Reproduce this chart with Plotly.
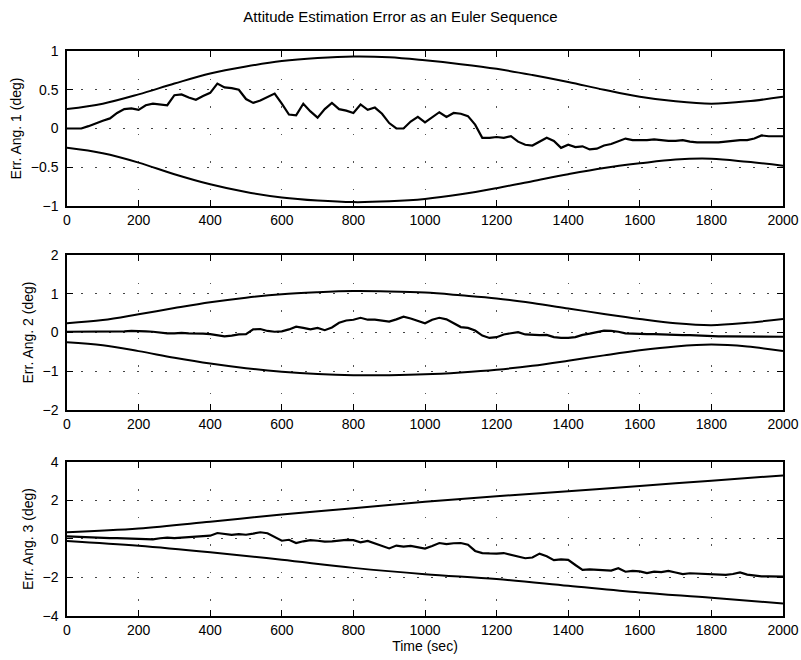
import plotly.graph_objects as go
from plotly.subplots import make_subplots

# ---------------- data ----------------
t_err = list(range(0, 2001, 20))

err1 = [0.00, 0.00, 0.00, 0.03, 0.07, 0.10, 0.13, 0.20, 0.25, 0.26,
        0.24, 0.30, 0.32, 0.31, 0.30, 0.43, 0.44, 0.40, 0.37, 0.42,
        0.46, 0.58, 0.53, 0.52, 0.50, 0.38, 0.33, 0.36, 0.40, 0.45,
        0.32, 0.18, 0.17, 0.32, 0.22, 0.14, 0.25, 0.33, 0.25, 0.23,
        0.20, 0.31, 0.24, 0.27, 0.19, 0.07, 0.00, 0.00, 0.09, 0.15,
        0.08, 0.14, 0.21, 0.15, 0.20, 0.19, 0.16, 0.05, -0.12, -0.12,
        -0.11, -0.12, -0.10, -0.17, -0.21, -0.22, -0.17, -0.12, -0.16, -0.25,
        -0.21, -0.24, -0.23, -0.27, -0.26, -0.22, -0.20, -0.17, -0.13, -0.15,
        -0.15, -0.15, -0.14, -0.15, -0.16, -0.16, -0.15, -0.17, -0.18, -0.18,
        -0.18, -0.18, -0.17, -0.16, -0.15, -0.15, -0.13, -0.09, -0.10, -0.10,
        -0.10]

err2 = [0.02, 0.02, 0.02, 0.02, 0.02, 0.02, 0.03, 0.03, 0.03, 0.04,
        0.04, 0.03, 0.02, 0.00, -0.02, -0.02, -0.01, -0.02, -0.02, -0.03,
        -0.04, -0.07, -0.10, -0.08, -0.05, -0.04, 0.08, 0.09, 0.04, 0.02,
        0.03, 0.08, 0.15, 0.12, 0.08, 0.12, 0.06, 0.13, 0.25, 0.31,
        0.33, 0.38, 0.33, 0.33, 0.30, 0.28, 0.34, 0.41, 0.36, 0.31,
        0.24, 0.33, 0.38, 0.34, 0.24, 0.14, 0.12, 0.05, -0.08, -0.14,
        -0.12, -0.05, -0.02, 0.01, -0.05, -0.06, -0.07, -0.06, -0.12, -0.14,
        -0.14, -0.12, -0.06, -0.03, 0.01, 0.05, 0.04, 0.02, -0.02, -0.03,
        -0.04, -0.04, -0.04, -0.05, -0.06, -0.06, -0.07, -0.07, -0.08, -0.09,
        -0.10, -0.10, -0.10, -0.10, -0.10, -0.10, -0.10, -0.10, -0.10, -0.11,
        -0.11]

err3 = [0.14, 0.12, 0.10, 0.09, 0.08, 0.07, 0.05, 0.04, 0.03, 0.02,
        0.00, -0.03, -0.02, 0.04, 0.07, 0.05, 0.09, 0.10, 0.12, 0.15,
        0.17, 0.31, 0.26, 0.21, 0.25, 0.22, 0.28, 0.35, 0.30, 0.12,
        -0.09, -0.04, -0.21, -0.12, -0.06, -0.09, -0.14, -0.12, -0.07, -0.05,
        -0.06, -0.17, -0.10, -0.24, -0.38, -0.49, -0.34, -0.40, -0.36, -0.44,
        -0.50, -0.36, -0.21, -0.27, -0.22, -0.21, -0.30, -0.62, -0.73, -0.75,
        -0.76, -0.73, -0.82, -0.88, -1.00, -0.96, -0.76, -0.90, -1.10, -1.06,
        -1.08, -1.35, -1.60, -1.58, -1.60, -1.62, -1.64, -1.52, -1.70, -1.66,
        -1.68, -1.77, -1.70, -1.72, -1.66, -1.74, -1.82, -1.78, -1.80, -1.82,
        -1.82, -1.86, -1.86, -1.82, -1.74, -1.85, -1.90, -1.94, -1.94, -1.94,
        -1.95]

t_bnd = list(range(0, 2001, 100))
up1 = [0.25, 0.32, 0.44, 0.58, 0.71, 0.80, 0.87, 0.91, 0.93, 0.92, 0.88,
       0.83, 0.77, 0.69, 0.60, 0.50, 0.41, 0.35, 0.32, 0.35, 0.41]
lo1 = [-0.25, -0.32, -0.44, -0.59, -0.72, -0.82, -0.89, -0.93, -0.95, -0.94, -0.91,
       -0.85, -0.77, -0.68, -0.59, -0.51, -0.45, -0.40, -0.39, -0.43, -0.48]
up2 = [0.24, 0.32, 0.47, 0.63, 0.78, 0.90, 0.99, 1.04, 1.07, 1.06, 1.03,
       0.96, 0.88, 0.76, 0.62, 0.48, 0.35, 0.24, 0.19, 0.25, 0.35]
lo2 = [-0.25, -0.33, -0.48, -0.65, -0.80, -0.92, -1.01, -1.07, -1.10, -1.10, -1.08,
       -1.03, -0.96, -0.86, -0.73, -0.59, -0.46, -0.36, -0.31, -0.36, -0.48]

t_bnd3 = list(range(0, 2001, 200))
up3 = [0.35, 0.55, 0.90, 1.27, 1.60, 1.93, 2.22, 2.48, 2.75, 3.03, 3.30]
lo3 = [-0.10, -0.35, -0.69, -1.08, -1.50, -1.83, -2.08, -2.43, -2.78, -3.05, -3.35]

x_ticks = list(range(0, 2001, 200))
y_ticks = [[-1, -0.5, 0, 0.5, 1], [-2, -1, 0, 1, 2], [-4, -2, 0, 2, 4]]
y_tick_text = [["−1", "−0.5", "0", "0.5", "1"], ["−2", "−1", "0", "1", "2"],
               ["−4", "−2", "0", "2", "4"]]
y_titles = ["Err. Ang. 1 (deg)", "Err. Ang. 2 (deg)", "Err. Ang. 3 (deg)"]
title_text = "Attitude Estimation Error as an Euler Sequence"
x_title = "Time (sec)"

# ---------------- figure ----------------
fig = make_subplots(rows=3, cols=1)
FONT = "Liberation Sans, Arial, Helvetica, sans-serif"
series = [(err1, up1, lo1, t_bnd), (err2, up2, lo2, t_bnd), (err3, up3, lo3, t_bnd3)]
for i, (e, u, l, tb) in enumerate(series):
    r = i + 1
    fig.add_trace(go.Scatter(x=tb, y=u, mode="lines",
                             line=dict(color="black", width=2, shape="spline")), row=r, col=1)
    fig.add_trace(go.Scatter(x=tb, y=l, mode="lines",
                             line=dict(color="black", width=2, shape="spline")), row=r, col=1)
    fig.add_trace(go.Scatter(x=t_err, y=e, mode="lines",
                             line=dict(color="black", width=2.2)), row=r, col=1)

domains = [[0.7257, 1.0], [0.3646, 0.6389], [0.0, 0.2726]]
for i in range(3):
    r = i + 1
    fig.update_xaxes(row=r, col=1, range=[0, 2000], tickvals=x_ticks, automargin=False,
                     ticks="inside", ticklen=6, tickwidth=1.2, tickcolor="black",
                     showline=True, linecolor="black", linewidth=1.5, mirror="ticks",
                     showgrid=True, gridcolor="#555", gridwidth=1.3, griddash="1.5px,26px",
                     zeroline=False,
                     tickfont=dict(family=FONT, size=14, color="black"))
    lo, hi = y_ticks[i][0], y_ticks[i][-1]
    fig.update_yaxes(row=r, col=1, range=[lo, hi], domain=domains[i], automargin=False,
                     tickvals=y_ticks[i], ticktext=y_tick_text[i],
                     ticks="inside", ticklen=6, tickwidth=1.2, tickcolor="black",
                     showline=True, linecolor="black", linewidth=1.5, mirror="ticks",
                     showgrid=True, gridcolor="#444", gridwidth=1.3, griddash="1.5px,12.5px",
                     zeroline=False, ticklabelstandoff=4,
                     tickfont=dict(family=FONT, size=14, color="black"),
                     title=dict(text=y_titles[i], font=dict(family=FONT, size=14, color="black"),
                                standoff=6))

fig.update_xaxes(row=3, col=1, title=dict(text=x_title, standoff=2,
                                          font=dict(family=FONT, size=14, color="black")))

fig.update_layout(
    width=801, height=660,
    margin=dict(l=67, r=18, t=51, b=44),
    paper_bgcolor="white", plot_bgcolor="white",
    showlegend=False,
    title=dict(text=title_text, x=0.5, xref="container", xanchor="center",
               y=1 - 17 / 660, yref="container", yanchor="middle",
               font=dict(family=FONT, size=15, color="black")),
)

fig.write_html("out.html")
